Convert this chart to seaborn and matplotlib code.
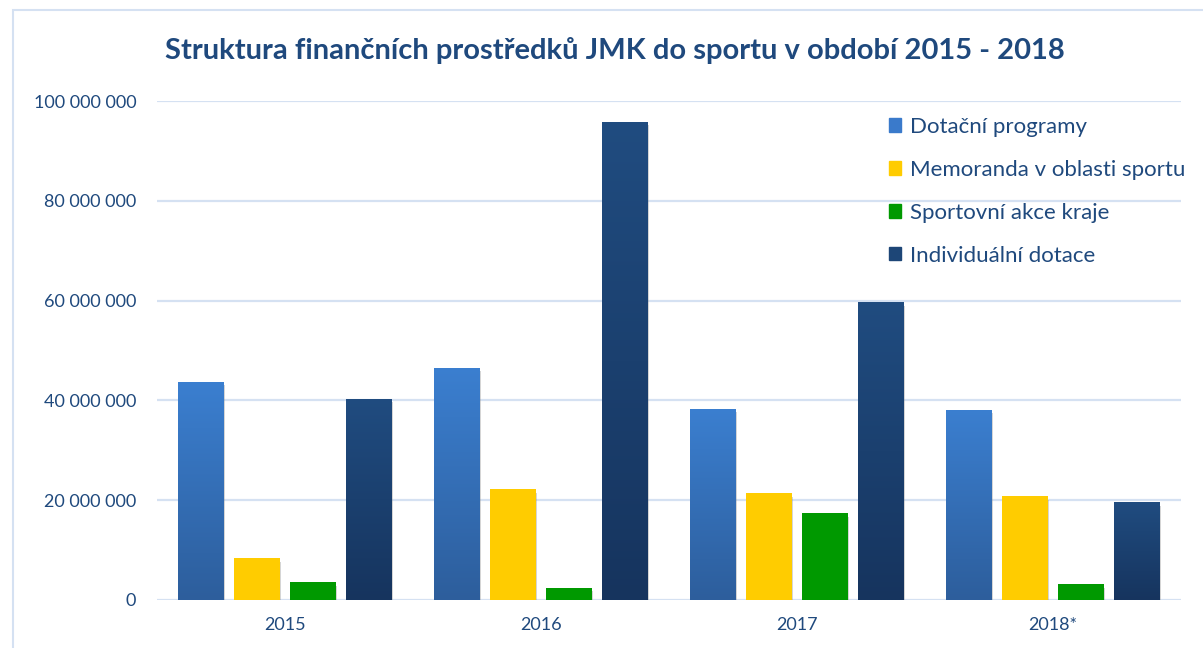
import numpy as np
import pandas as pd
import seaborn as sns
import matplotlib.pyplot as plt
from matplotlib.colors import LinearSegmentedColormap
from matplotlib.patches import Rectangle
import matplotlib.patheffects as pe

years = ["2015", "2016", "2017", "2018*"]
series = ["Dotační programy", "Memoranda v oblasti sportu", "Sportovní akce kraje", "Individuální dotace"]
dotacni = [43.7e6, 46.5e6, 38.3e6, 38.1e6]
memoranda = [8.4e6, 22.2e6, 21.4e6, 20.8e6]
akce = [3.6e6, 2.4e6, 17.4e6, 3.2e6]
individualni = [40.3e6, 95.8e6, 59.7e6, 19.6e6]
yticks = [0, 20e6, 40e6, 60e6, 80e6, 100e6]
ytick_labels = ["0", "20 000 000", "40 000 000", "60 000 000", "80 000 000", "100 000 000"]
title = "Struktura finančních prostředků JMK do sportu v období 2015 - 2018"

df = pd.DataFrame({
    "rok": years * 4,
    "kategorie": sum([[s] * 4 for s in series], []),
    "hodnota": dotacni + memoranda + akce + individualni,
})

sns.set_theme(style="white")
plt.rcParams["font.family"] = ["Lato", "DejaVu Sans"]
text_color = "#1f497d"
grid_color = "#d5e1f2"

colors = ["#3a7acb", "#ffcc00", "#009900", "#1d4677"]
grads = {
    0: ("#3b7fd0", "#2d5e9c"),
    3: ("#204c80", "#16345e"),
}

fig = plt.figure(figsize=(12.03, 6.48), dpi=100)
ax = fig.add_axes([157 / 1203, 1 - 600 / 648, 1024 / 1203, 499 / 648])

sns.barplot(data=df, x="rok", y="hodnota", hue="kategorie", hue_order=series,
            palette=colors, width=0.875, gap=0.18, ax=ax, legend=False,
            saturation=1, linewidth=0, zorder=3)

n = len(years)
for i, patch in enumerate(ax.patches[:4 * n]):
    s = i // n
    patch.set_path_effects([pe.SimplePatchShadow(offset=(0.5, -2.5), shadow_rgbFace="#777777", alpha=0.3), pe.Normal()])
    if s in grads:
        x0, y0 = patch.get_x(), patch.get_y()
        w, h = patch.get_width(), patch.get_height()
        cmap = LinearSegmentedColormap.from_list("g", [grads[s][1], grads[s][0]])
        grad = np.linspace(0, 1, 256).reshape(-1, 1)
        im = ax.imshow(grad, extent=[x0, x0 + w, y0, y0 + h], origin="lower",
                       aspect="auto", cmap=cmap, zorder=3.5)
        im.set_clip_path(patch)

ax.set_xlim(-0.5, 3.5)
ax.set_ylim(0, 100e6)
ax.set_yticks(yticks)
ax.set_yticklabels(ytick_labels)
ax.yaxis.grid(True, color=grid_color, linewidth=1.6, zorder=0)
ax.set_axisbelow(True)
for sp in ax.spines.values():
    sp.set_visible(False)
ax.tick_params(axis="both", length=0, labelsize=13, labelcolor=text_color)
ax.tick_params(axis="y", pad=15)
ax.tick_params(axis="x", pad=12)
ax.set_xlabel("")
ax.set_ylabel("")

handles = [Rectangle((0, 0), 1, 1, color=c) for c in colors]
leg = ax.legend(handles, series, loc="upper left", bbox_to_anchor=(889 / 1203, 1 - 117 / 648),
                bbox_transform=fig.transFigure, frameon=False, fontsize=16,
                handlelength=0.55, handleheight=0.55, handletextpad=0.4,
                labelspacing=1.03, borderaxespad=0, borderpad=0)
for t in leg.get_texts():
    t.set_color(text_color)

fig.text(615 / 1203, 1 - 50 / 648, title, ha="center", va="center",
         fontsize=21, fontweight="bold", color=text_color)

fig.patches.append(Rectangle((13 / 1203, -0.1), 1.2, 1 - 10 / 648 + 0.1, transform=fig.transFigure,
                             fill=False, edgecolor="#d5e1f2", linewidth=1.5))

fig.savefig("out.png", dpi=100)
